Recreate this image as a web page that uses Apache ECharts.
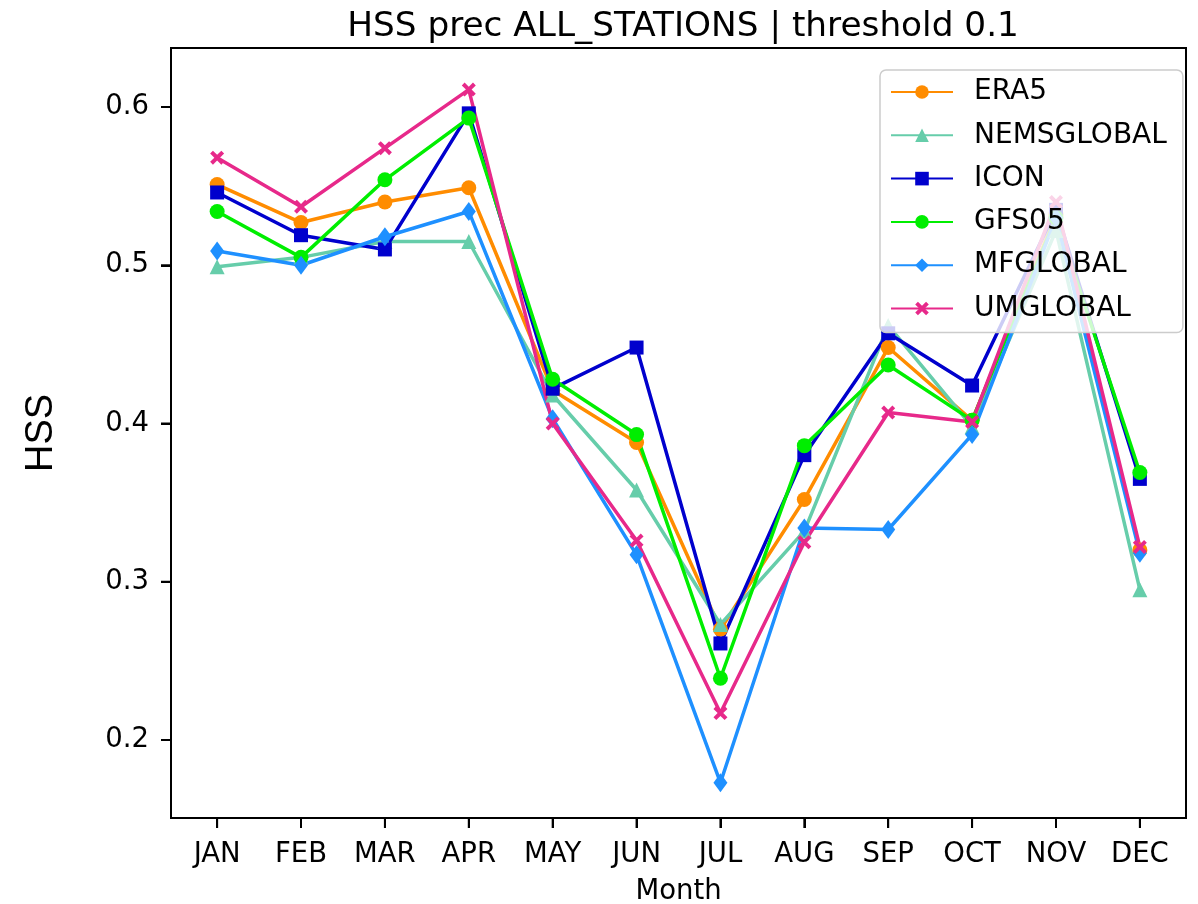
<!DOCTYPE html>
<html>
<head>
<meta charset="utf-8">
<script src="https://cdn.jsdelivr.net/npm/echarts@6/dist/echarts.min.js"></script>
<style>html,body{margin:0;padding:0;background:#fff;}#c{width:1198px;height:904px;background:#fff;}</style>
</head>
<body>
<div id="c"></div>
<script>
const months = ['JAN','FEB','MAR','APR','MAY','JUN','JUL','AUG','SEP','OCT','NOV','DEC'];
const yTicks = [0.2, 0.3, 0.4, 0.5, 0.6];
const ERA5      = [0.551, 0.527, 0.540, 0.549, 0.421, 0.388, 0.270, 0.352, 0.448, 0.402, 0.532, 0.320];
const NEMSGLOBAL= [0.499, 0.505, 0.515, 0.515, 0.418, 0.358, 0.273, 0.332, 0.462, 0.398, 0.522, 0.295];
const ICON      = [0.546, 0.519, 0.510, 0.596, 0.422, 0.448, 0.261, 0.380, 0.457, 0.424, 0.535, 0.365];
const GFS05     = [0.534, 0.505, 0.554, 0.593, 0.428, 0.393, 0.239, 0.386, 0.437, 0.402, 0.530, 0.369];
const MFGLOBAL  = [0.509, 0.500, 0.518, 0.534, 0.403, 0.317, 0.173, 0.334, 0.333, 0.393, 0.530, 0.318];
const UMGLOBAL  = [0.568, 0.537, 0.574, 0.611, 0.400, 0.326, 0.217, 0.325, 0.407, 0.401, 0.540, 0.322];

const xMark = 'path://M2,0 L5,3 L8,0 L10,2 L7,5 L10,8 L8,10 L5,7 L2,10 L0,8 L3,5 L0,2 Z';
const seriesDefs = [
  {name:'ERA5', data:ERA5, color:'#ff8c00', symbol:'circle', size:15},
  {name:'NEMSGLOBAL', data:NEMSGLOBAL, color:'#66cdaa', symbol:'triangle', size:15},
  {name:'ICON', data:ICON, color:'#0000cd', symbol:'rect', size:14},
  {name:'GFS05', data:GFS05, color:'#00ee00', symbol:'circle', size:15},
  {name:'MFGLOBAL', data:MFGLOBAL, color:'#1e90ff', symbol:'diamond', size:[14,19]},
  {name:'UMGLOBAL', data:UMGLOBAL, color:'#e7298a', symbol:xMark, size:14}
];
const xIdx = months.map((m,i)=>i);
const font = 'DejaVu Sans';
const X_MIN = -0.55, X_MAX = 11.55, Y_MIN = 0.1507, Y_MAX = 0.6373;
const chart = echarts.init(document.getElementById('c'), null, {renderer:'canvas'});
chart.setOption({
  animation:false,
  title:{
    text:'HSS prec ALL_STATIONS | threshold 0.1',
    left:678, top:5, textAlign:'center',
    textStyle:{fontFamily:font, fontSize:34.3, fontWeight:'normal', color:'#000'}
  },
  legend:{
    orient:'vertical', left:880, top:70,
    padding:[8,16,10,10],
    itemWidth:62, itemHeight:17, itemGap:15.3,
    backgroundColor:'rgba(255,255,255,0.8)',
    borderColor:'#cccccc', borderWidth:1.5, borderRadius:6,
    textStyle:{fontFamily:font, fontSize:28, color:'#000', lineHeight:28, padding:[0,0,0,16]},
    data:seriesDefs.map(s=>s.name)
  },
  grid:{left:171, right:12, top:48, bottom:86, outerBoundsMode:'none', show:true, borderColor:'#000', borderWidth:2},
  xAxis:{
    type:'value', min:X_MIN, max:X_MAX, position:'bottom',
    name:'Month', nameLocation:'middle', nameGap:60,
    nameTextStyle:{fontFamily:font, fontSize:27.5, color:'#000'},
    axisLine:{show:true, onZero:false, lineStyle:{color:'#000', width:2}},
    splitLine:{show:false},
    axisTick:{show:true, length:10, lineStyle:{color:'#000', width:2}, customValues:xIdx},
    axisLabel:{show:true, fontFamily:font, fontSize:27.5, color:'#000', margin:23, customValues:xIdx, formatter:v=>months[Math.round(v)]}
  },
  yAxis:{
    type:'value', min:Y_MIN, max:Y_MAX, position:'left',
    name:'HSS', nameLocation:'middle', nameGap:110, nameRotate:90,
    nameTextStyle:{fontFamily:'Liberation Sans', fontSize:38, color:'#000'},
    axisLine:{show:true, onZero:false, lineStyle:{color:'#000', width:2}},
    splitLine:{show:false},
    axisTick:{show:true, length:10, lineStyle:{color:'#000', width:2}, customValues:yTicks},
    axisLabel:{show:true, fontFamily:font, fontSize:27.5, color:'#000', margin:22, customValues:yTicks, formatter:v=>v.toFixed(1)}
  },
  series:seriesDefs.map(s=>({
    name:s.name, type:'line',
    data:s.data.map((v,i)=>[i,v]),
    symbol:s.symbol, symbolSize:s.size, showSymbol:true,
    lineStyle:{color:s.color, width:3.5},
    itemStyle:{color:s.color}
  }))
});
// Tick marks placed through the library's own axis scales, on a top layer
function px(axis, v) {
  const r = chart.convertToPixel(axis, v);
  return Array.isArray(r) ? r[0] : r;
}
try {
  const yBottom = px({yAxisIndex:0}, Y_MIN);
  const xLeft = px({xAxisIndex:0}, X_MIN);
  const ticks = [];
  xIdx.forEach(i => {
    const x = px({xAxisIndex:0}, i);
    ticks.push({type:'rect', zlevel:5, z:100, silent:true, shape:{x:x-1, y:yBottom, width:2, height:10}, style:{fill:'#000'}});
  });
  yTicks.forEach(v => {
    const y = px({yAxisIndex:0}, v);
    ticks.push({type:'rect', zlevel:5, z:100, silent:true, shape:{x:xLeft-10, y:y-1, width:10, height:2}, style:{fill:'#000'}});
  });
  chart.setOption({graphic:{elements:ticks}});
} catch (e) {}
</script>
</body>
</html>
